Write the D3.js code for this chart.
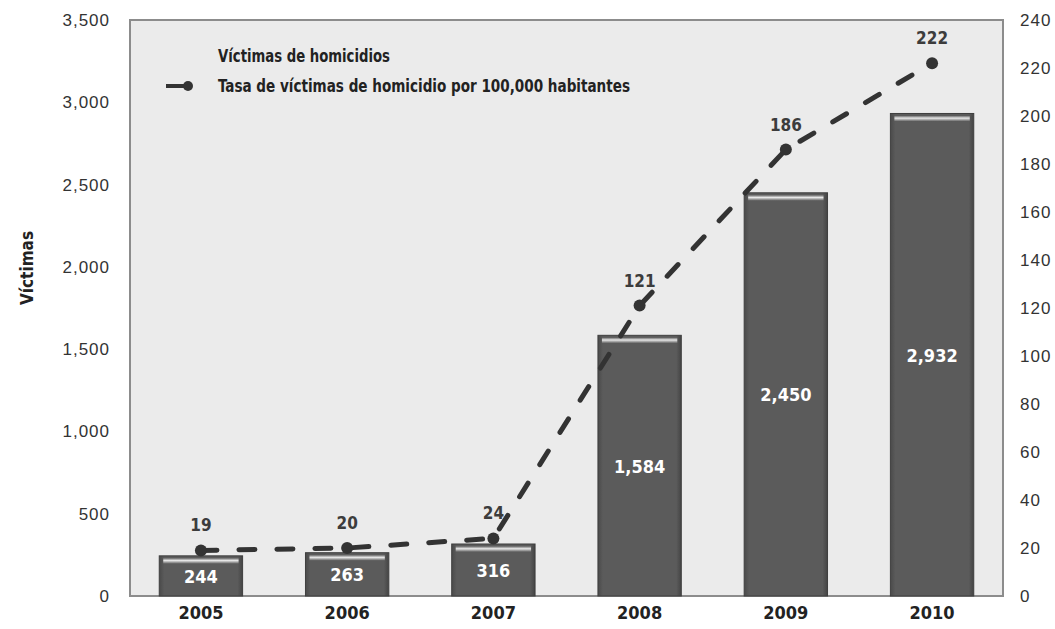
<!DOCTYPE html>
<html>
<head>
<meta charset="utf-8">
<script src="https://cdn.jsdelivr.net/npm/d3@7"></script>
<style>
  body { margin: 0; background: #fff; }
  svg { display: block; }
</style>
</head>
<body>
<div id="chart"></div>
<script>
// data
var years = ["2005", "2006", "2007", "2008", "2009", "2010"];
var victimas = [244, 263, 316, 1584, 2450, 2932];
var tasa = [19, 20, 24, 121, 186, 222];
var leftTicks = [0, 500, 1000, 1500, 2000, 2500, 3000, 3500];
var rightTicks = [0, 20, 40, 60, 80, 100, 120, 140, 160, 180, 200, 220, 240];

var w = 1055, h = 629;
var margin = {top: 20, right: 52, bottom: 33, left: 130};
var narrow = "'DejaVu Sans Condensed', 'Liberation Sans Narrow', sans-serif";
var plain = "'Liberation Sans', Arial, sans-serif";

var svg = d3.select("#chart").append("svg")
  .attr("width", w)
  .attr("height", h);

var defs = svg.append("defs");
var grad = defs.append("linearGradient")
  .attr("id", "bevel").attr("x1", 0).attr("y1", 0).attr("x2", 0).attr("y2", 1);
grad.append("stop").attr("offset", "0%").attr("stop-color", "#5a5a5a");
grad.append("stop").attr("offset", "45%").attr("stop-color", "#e8e8e8");
grad.append("stop").attr("offset", "100%").attr("stop-color", "#5a5a5a");

var side = defs.append("linearGradient")
  .attr("id", "side").attr("x1", 0).attr("y1", 0).attr("x2", 1).attr("y2", 0);
side.append("stop").attr("offset", "0%").attr("stop-color", "#4a4a4a");
side.append("stop").attr("offset", "6%").attr("stop-color", "#5b5b5b");
side.append("stop").attr("offset", "94%").attr("stop-color", "#5b5b5b");
side.append("stop").attr("offset", "100%").attr("stop-color", "#444");

var x = d3.scaleBand()
  .domain(years)
  .range([margin.left, w - margin.right])
  .paddingInner(0.43)
  .paddingOuter(0.2);

var yL = d3.scaleLinear().domain([0, 3500]).range([h - margin.bottom, margin.top]);
var yR = d3.scaleLinear().domain([0, 240]).range([h - margin.bottom, margin.top]);

// plot area
svg.append("rect")
  .attr("x", margin.left)
  .attr("y", margin.top)
  .attr("width", w - margin.left - margin.right)
  .attr("height", h - margin.top - margin.bottom)
  .attr("fill", "#ebebeb")
  .attr("stroke", "#8c8c8c")
  .attr("stroke-width", 2);

// left axis
var leftAxis = d3.axisLeft(yL)
  .tickValues(leftTicks)
  .tickSize(0)
  .tickPadding(20)
  .tickFormat(d3.format(","));
var gL = svg.append("g")
  .attr("transform", "translate(" + margin.left + ",0)")
  .call(leftAxis);
gL.select(".domain").remove();
gL.selectAll("text")
  .attr("font-family", plain)
  .attr("font-size", 17)
  .attr("letter-spacing", 1)
  .attr("fill", "#333");

// right axis
var rightAxis = d3.axisRight(yR)
  .tickValues(rightTicks)
  .tickSize(0)
  .tickPadding(17);
var gR = svg.append("g")
  .attr("transform", "translate(" + (w - margin.right) + ",0)")
  .call(rightAxis);
gR.select(".domain").remove();
gR.selectAll("text")
  .attr("font-family", plain)
  .attr("font-size", 17)
  .attr("letter-spacing", 1)
  .attr("fill", "#333");

// x axis
var xAxis = d3.axisBottom(x).tickSize(0).tickPadding(10);
var gX = svg.append("g")
  .attr("transform", "translate(0," + (h - margin.bottom) + ")")
  .call(xAxis);
gX.select(".domain").remove();
gX.selectAll("text")
  .attr("font-family", narrow)
  .attr("font-weight", "bold")
  .attr("font-size", 18)
  .attr("fill", "#222");

// y axis title
svg.append("text")
  .attr("transform", "translate(33,268) rotate(-90)")
  .attr("text-anchor", "middle")
  .attr("font-family", narrow)
  .attr("font-weight", "bold")
  .attr("font-size", 17)
  .attr("fill", "#222")
  .text("Víctimas");

// bars
var bars = svg.append("g").selectAll("g")
  .data(victimas)
  .enter()
  .append("g");

bars.append("rect")
  .attr("x", function(d, i) { return x(years[i]); })
  .attr("y", function(d) { return yL(d); })
  .attr("width", x.bandwidth())
  .attr("height", function(d) { return yL(0) - yL(d); })
  .attr("fill", "url(#side)")
  .attr("stroke", "#3f3f3f")
  .attr("stroke-width", 1);

bars.append("rect")
  .attr("x", function(d, i) { return x(years[i]) + 4; })
  .attr("y", function(d) { return yL(d) + 2; })
  .attr("width", x.bandwidth() - 8)
  .attr("height", 6)
  .attr("fill", "url(#bevel)");

bars.append("text")
  .attr("x", function(d, i) { return x(years[i]) + x.bandwidth() / 2; })
  .attr("y", function(d) { return (yL(d) + yL(0)) / 2 + 7; })
  .attr("text-anchor", "middle")
  .attr("font-family", narrow)
  .attr("font-weight", "bold")
  .attr("font-size", 18)
  .attr("fill", "#fff")
  .text(function(d) { return d3.format(",")(d); });

// line
var line = d3.line()
  .x(function(d, i) { return x(years[i]) + x.bandwidth() / 2; })
  .y(function(d) { return yR(d); });

svg.append("path")
  .datum(tasa)
  .attr("d", line)
  .attr("fill", "none")
  .attr("stroke", "#333")
  .attr("stroke-width", 5)
  .attr("stroke-linecap", "round")
  .attr("stroke-dasharray", "16,22");

svg.append("g").selectAll("circle")
  .data(tasa)
  .enter()
  .append("circle")
  .attr("cx", function(d, i) { return x(years[i]) + x.bandwidth() / 2; })
  .attr("cy", function(d) { return yR(d); })
  .attr("r", 6)
  .attr("fill", "#333");

svg.append("g").selectAll("text")
  .data(tasa)
  .enter()
  .append("text")
  .attr("x", function(d, i) { return x(years[i]) + x.bandwidth() / 2; })
  .attr("y", function(d) { return yR(d) - 19; })
  .attr("text-anchor", "middle")
  .attr("font-family", narrow)
  .attr("font-weight", "bold")
  .attr("font-size", 17)
  .attr("fill", "#3c3c3c")
  .text(function(d) { return d; });

// legend
var legend = svg.append("g").attr("transform", "translate(218,0)");
legend.append("text")
  .attr("x", 0).attr("y", 62)
  .attr("font-family", narrow)
  .attr("font-weight", "bold")
  .attr("font-size", 18)
  .attr("textLength", 172)
  .attr("lengthAdjust", "spacingAndGlyphs")
  .attr("fill", "#222")
  .text("Víctimas de homicidios");
legend.append("line")
  .attr("x1", -52).attr("x2", -28)
  .attr("y1", 86).attr("y2", 86)
  .attr("stroke", "#333")
  .attr("stroke-width", 4);
legend.append("circle")
  .attr("cx", -30).attr("cy", 86).attr("r", 5)
  .attr("fill", "#333");
legend.append("text")
  .attr("x", 0).attr("y", 92)
  .attr("font-family", narrow)
  .attr("font-weight", "bold")
  .attr("font-size", 18)
  .attr("textLength", 412)
  .attr("lengthAdjust", "spacingAndGlyphs")
  .attr("fill", "#222")
  .text("Tasa de víctimas de homicidio por 100,000 habitantes");
</script>
</body>
</html>
